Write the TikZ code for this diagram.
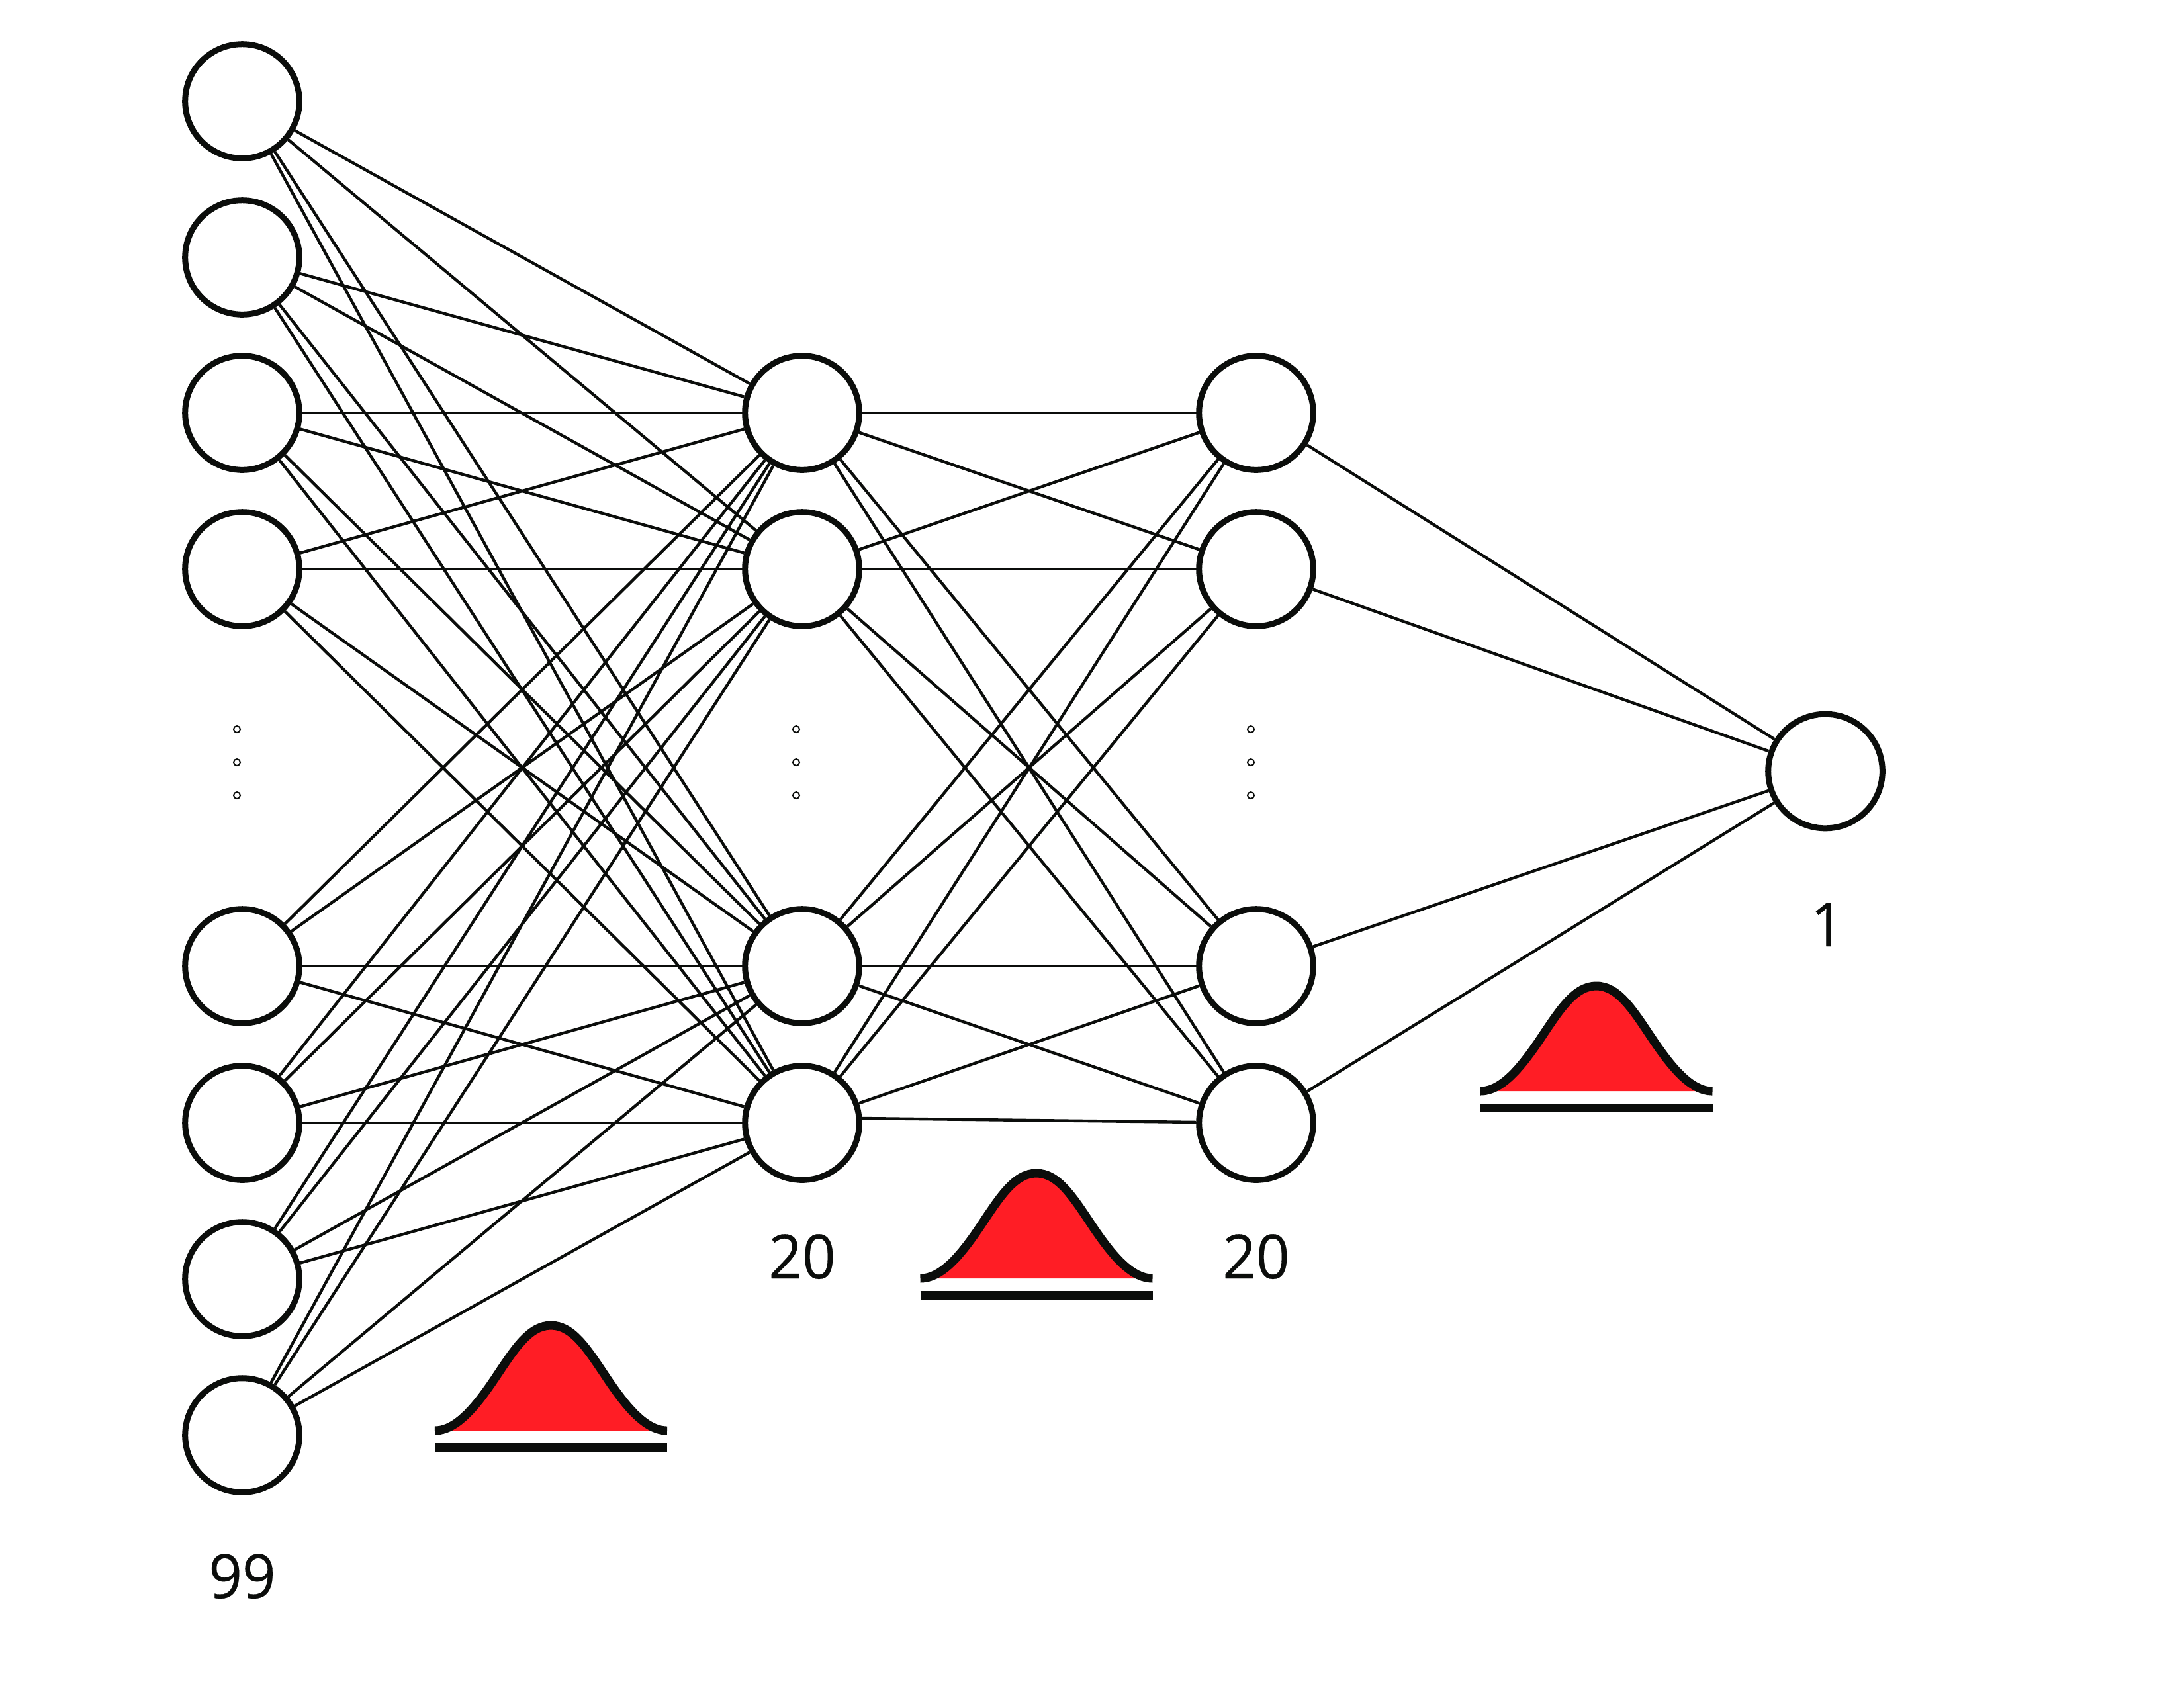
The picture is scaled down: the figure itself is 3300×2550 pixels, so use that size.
\documentclass[tikz,border=0pt]{standalone}
\usepackage{fontspec}
\setmainfont{Open Sans}
\newfontfamily\countfont[FakeBold=0.35,FakeStretch=0.96]{Open Sans}
\definecolor{ink}{HTML}{0B0D0B}
\definecolor{bellred}{HTML}{FF1D25}
\tikzset{
  x=0.01cm,y=-0.01cm,
  neuron/.style={circle,draw=ink,fill=white,line width=0.09cm,minimum size=1.725cm,inner sep=0pt},
  link/.style={draw=ink,line width=0.044cm},
  dotmark/.style={circle,draw=ink,fill=white,line width=0.02cm,minimum size=0.1cm,inner sep=0pt},
  count/.style={anchor=base,inner sep=0pt,text=ink,font=\countfont\fontsize{26.2pt}{30pt}\selectfont},
  pics/bell/.style={code={
    \path[fill=bellred] (-175.5,0) .. controls (-142,0) and (-112,-38) .. (-82,-83)
      .. controls (-54,-125) and (-32,-159) .. (0,-159)
      .. controls (32,-159) and (54,-125) .. (82,-83)
      .. controls (112,-38) and (142,0) .. (175.5,0) -- cycle;
    \draw[ink,line width=0.13cm] (-175.5,0) .. controls (-142,0) and (-112,-38) .. (-82,-83)
      .. controls (-54,-125) and (-32,-159) .. (0,-159)
      .. controls (32,-159) and (54,-125) .. (82,-83)
      .. controls (112,-38) and (142,0) .. (175.5,0);
    \draw[ink,line width=0.13cm] (-175.5,25.5) -- (175.5,25.5);
  }}
}
\begin{document}
\begin{tikzpicture}
\useasboundingbox (0,0) rectangle (3300,2550);
% layers
\foreach \n/\yy in {1/153,2/389,3/624,4/860,5/1460,6/1697,7/1933,8/2169}
  \node[neuron] (a\n) at (366,\yy) {};
\foreach \n/\yy in {1/624,2/860,3/1460,4/1697} {
  \node[neuron] (b\n) at (1212,\yy) {};
  \node[neuron] (c\n) at (1898,\yy) {};
}
\node[neuron] (d) at (2758,1165.5) {};
\coordinate (b4out) at (1303,1690);
% connectors
\foreach \i in {1,...,8}
  \foreach \j in {1,...,4}
    \draw[link] (a\i) -- (b\j);
\foreach \i in {1,...,4}
  \foreach \j in {1,...,4} {
    \ifnum\i\j=44\relax\else
      \draw[link] (b\i) -- (c\j);
    \fi
  }
\draw[link] (b4out) -- (c4);
\foreach \j in {1,...,4}
  \draw[link] (c\j) -- (d);
% ellipsis dots
\foreach \k/\xx in {a/358,b/1203,c/1890}
  \foreach \m/\yy in {1/1102,2/1152,3/1202}
    \node[dotmark] (dot\k\m) at (\xx,\yy) {};
% bells
\pic at (832.5,2162) {bell};
\pic at (1566,1932) {bell};
\pic at (2412,1649) {bell};
% counts
\node[count] (n99) at (366,2415) {99};
\node[count] (n20a) at (1212,1932) {20};
\node[count] (n20b) at (1898,1932) {20};
\node[count] (n1) at (2761,1430) {1};
\end{tikzpicture}
\end{document}
